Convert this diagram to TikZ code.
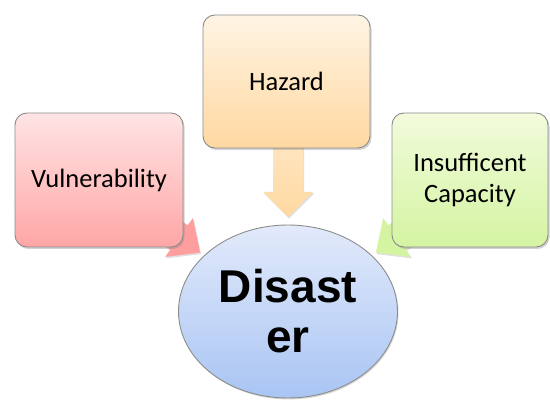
\documentclass[tikz,border=0pt]{standalone}
\usepackage{fontspec}
\setmainfont{Carlito}
\newfontfamily\arialfont{Liberation Sans}
\usetikzlibrary{shapes.geometric,shadows,fadings}
\definecolor{redtop}{HTML}{FFE4E4}
\definecolor{redbot}{HTML}{FFA6A6}
\definecolor{orgtop}{HTML}{FFF4E4}
\definecolor{orgbot}{HTML}{FFD8A0}
\definecolor{grntop}{HTML}{F2FBDC}
\definecolor{grnbot}{HTML}{D4F4A2}
\definecolor{blutop}{HTML}{E2EAFB}
\definecolor{blubot}{HTML}{A9C5F3}
\definecolor{edge}{HTML}{8C8C8C}
\tikzset{
  box/.style={rounded corners=12pt, draw=edge, line width=0.9pt,
    drop shadow={shadow xshift=1.5pt, shadow yshift=-2pt, opacity=0.35},
    align=center, font=\fontsize{26.5}{31}\selectfont, inner sep=0pt},
  blockarrow/.style={draw=none},
}
\begin{document}
\begin{tikzpicture}[x=1pt,y=-1pt]
\clip (0,0) rectangle (550,401);
\fill[white] (0,0) rectangle (550,401);
% arrows (behind boxes)
\path[blockarrow, fill=redbot!95!red, drop shadow={shadow xshift=1pt, shadow yshift=-1.5pt, opacity=0.25}]
  (129.8,220.7) -- (170.3,249.7) -- (165.1,256.9) -- (200.1,252.6) -- (192.9,218.1) -- (187.7,225.3) -- (147.2,196.3) -- cycle;
\path[blockarrow, fill=grnbot, drop shadow={shadow xshift=1pt, shadow yshift=-1.5pt, opacity=0.25}]
  (446.2,220.7) -- (405.7,249.7) -- (410.9,256.9) -- (375.9,252.6) -- (383.1,218.1) -- (388.3,225.3) -- (428.8,196.3) -- cycle;
\path[blockarrow, top color=orgtop!50!orgbot, bottom color=orgbot, drop shadow={shadow xshift=1pt, shadow yshift=-1.5pt, opacity=0.25}]
  (273,140) -- (303,140) -- (303,192) -- (313,192) -- (288,217) -- (263,192) -- (273,192) -- cycle;
% boxes
\node[box, top color=redtop, bottom color=redbot, minimum width=168pt, minimum height=134pt] (vul) at (99,180) {Vulnerability};
\node[box, top color=orgtop, bottom color=orgbot, minimum width=167pt, minimum height=133pt] (haz) at (286.5,81.5) {Hazard};
\node[box, top color=grntop, bottom color=grnbot, minimum width=156pt, minimum height=134pt] (cap) at (470,180) {Insufficent\\Capacity};
% ellipse
\node[ellipse, draw=edge, line width=0.9pt, top color=blutop, bottom color=blubot,
  minimum width=219pt, minimum height=173pt, inner sep=0pt,
  drop shadow={shadow xshift=1pt, shadow yshift=-1.5pt, opacity=0.3},
  align=center, font=\arialfont\bfseries\fontsize{46}{50}\selectfont] (dis) at (288,311.5) {Disast\\er};
\end{tikzpicture}
\end{document}
